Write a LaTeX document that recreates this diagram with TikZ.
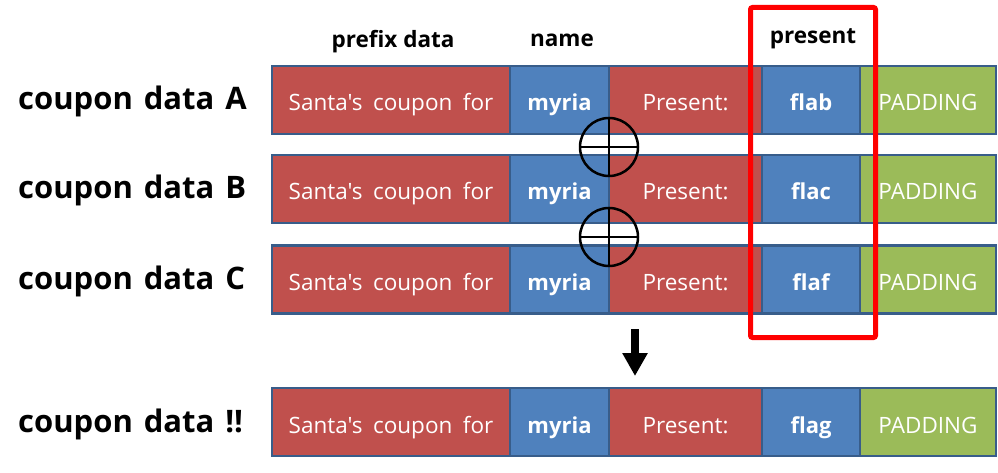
\documentclass[tikz,border=0pt]{standalone}
\usepackage{fontspec}
\setmainfont{Open Sans}[Ligatures=TeXOff]
\usetikzlibrary{arrows.meta}
\definecolor{cred}{HTML}{C0504D}
\definecolor{cblue}{HTML}{4F81BD}
\definecolor{cgreen}{HTML}{9BBB59}
\definecolor{cborder}{HTML}{385D8A}
\newcommand{\wsp}{\hspace{10.5pt}}
\newcommand{\lsp}{\hspace{11pt}}
\tikzset{
  cell/.style={draw=cborder, line width=2.5pt, rectangle, inner sep=0pt, minimum height=68pt, text height=24pt, text depth=2pt, text=white, font=\fontsize{22.5}{26}\selectfont},
  redcell/.style={cell, fill=cred},
  bluecell/.style={cell, fill=cblue, font=\fontsize{22}{26}\selectfont\bfseries},
  greencell/.style={cell, fill=cgreen},
  rowlabel/.style={anchor=west, inner sep=0pt, text height=30pt, text depth=10pt, font=\fontsize{31}{34}\selectfont\bfseries},
  header/.style={inner sep=0pt, font=\fontsize{22.5}{26}\selectfont\bfseries},
  xorop/.style={draw=black, line width=2.5pt, circle, minimum size=58pt, inner sep=0pt},
}
\begin{document}
\begin{tikzpicture}[x=1pt, y=-1pt]
\useasboundingbox (0,0) rectangle (998,473);
% headers
\node[header] (h1) at (393,42) {prefix data};
\node[header] (h2) at (562,40) {name};
\node[header] (h3) at (813,39) {present};
% rows
\foreach \r/\y/\lab/\fl in {a/100/A/flab, b/189/B/flac, c/279.5/C/flaf, d/422/!!/flag}{
  \node[rowlabel] (\r l) at (18,\y) {coupon\lsp data\lsp \lab};
  \node[redcell, minimum width=238pt] (\r1) at (391,\y) {Santa's\wsp coupon\wsp for};
  \node[bluecell, minimum width=99pt] (\r2) at (559.5,\y) {myria};
  \node[redcell, minimum width=153pt] (\r3) at (685.5,\y) {Present:};
  \node[bluecell, minimum width=98pt] (\r4) at (811,\y) {\fl};
  \node[greencell, minimum width=136pt] (\r5) at (928,\y) {PADDING};
}
% xor symbols
\node[xorop] (x1) at (609,147) {};
\node[xorop] (x2) at (609,237) {};
\foreach \x in {x1,x2}{
  \draw[line width=2.5pt] (\x.west) -- (\x.east);
  \draw[line width=2.5pt] (\x.north) -- (\x.south);
}
% arrow
\coordinate (arrs) at (635,329);
\coordinate (arre) at (635,376);
\draw[line width=8pt, -{Triangle[width=24pt,length=23pt]}] (arrs) -- (arre);
% red highlight box
\draw[red, line width=5pt, rounded corners=2pt] (750.5,7.5) rectangle (875.5,337.5);
\end{tikzpicture}
\end{document}
